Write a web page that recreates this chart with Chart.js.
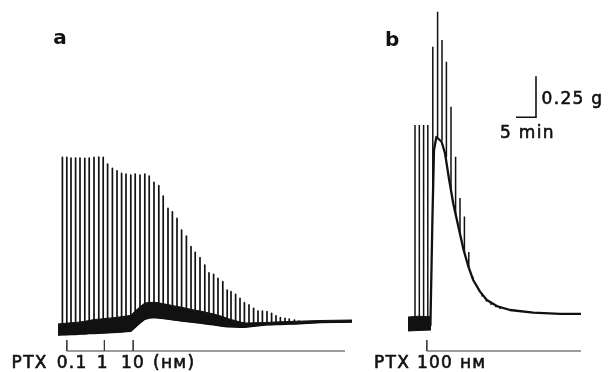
<!DOCTYPE html>
<html><head><meta charset="utf-8">
<script src="https://cdn.jsdelivr.net/npm/chart.js@4/dist/chart.umd.min.js"></script>
<style>html,body{margin:0;padding:0;background:#fff;}canvas{display:block;}</style>
</head><body>
<canvas id="c" width="608" height="372"></canvas>
<script>
// ---------- Panel a (time in min, tension in g) ----------
const aSpikeTime = [1.1,2.2,3.25,4.4,5.5,6.7,7.8,9.0,10.2,11.3,12.4,13.6,14.75,15.9,17.0,18.2,19.3,20.5,21.7,22.8,24.0,25.2,26.3,27.5,28.6,29.75,30.9,32.1,33.25,34.3,35.5,36.7,37.75,38.9,40.0,41.2,42.3,43.25,44.4,45.5,46.6,47.75,48.9,50.0,51.1,52.25,53.4,54.5,55.6,56.75,57.8,59.1,60.25];
const aSpikeTop = [1.059,1.059,1.055,1.055,1.055,1.053,1.055,1.059,1.061,1.059,1.018,0.992,0.977,0.962,0.957,0.951,0.957,0.951,0.957,0.945,0.907,0.886,0.823,0.748,0.727,0.687,0.616,0.579,0.514,0.480,0.447,0.402,0.355,0.346,0.321,0.301,0.250,0.240,0.224,0.199,0.173,0.159,0.138,0.122,0.122,0.118,0.108,0.093,0.081,0.077,0.073,0.067,0.061];
// lower / upper edge of the noisy baseline at each spike
const aBaseLow = [-0.023,-0.022,-0.021,-0.020,-0.018,-0.017,-0.015,-0.014,-0.013,-0.011,-0.010,-0.009,-0.007,-0.005,-0.003,-0.001,0.024,0.050,0.072,0.080,0.083,0.080,0.077,0.073,0.069,0.066,0.062,0.059,0.055,0.052,0.049,0.045,0.041,0.038,0.034,0.030,0.027,0.026,0.025,0.024,0.024,0.027,0.030,0.033,0.035,0.038,0.039,0.040,0.041,0.042,0.043,0.044,0.045];
const aBaseHigh = [0.045,0.048,0.050,0.052,0.055,0.059,0.064,0.070,0.072,0.075,0.078,0.080,0.084,0.087,0.091,0.095,0.122,0.148,0.170,0.174,0.175,0.172,0.166,0.161,0.155,0.150,0.145,0.138,0.132,0.127,0.122,0.116,0.110,0.104,0.096,0.088,0.077,0.070,0.063,0.055,0.049,0.049,0.050,0.051,0.051,0.052,0.054,0.055,0.056,0.057,0.058,0.059,0.060];
const aStartTime = [0];
const aStartLow = [-0.024];
const aStartHigh = [0.043];
const aTailTime = [65.5, 73.5];
const aTailLow = [0.052, 0.055];
const aTailHigh = [0.064, 0.067];
const ptxTimesA = [2.2, 11.6, 18.8];
const ptxLabelsA = ['0.1', '1', '10'];
const ptxLineEndA = 71.75;

// ---------- Panel b ----------
const bPreTime = [0, 2.5, 5.75];
const bPreLow = [0.0, 0.003, 0.006];
const bPreHigh = [0.085, 0.090, 0.087];
const bSpikeTime = [1.75,2.83,3.9,4.95,6.2,7.4,8.5,9.6,10.75,11.9,13.0,14.1,15.2,16.25,17.4,18.5,19.6,20.75,21.9,23.0];
const bSpikeTop = [1.256,1.256,1.256,1.256,1.734,1.947,1.774,1.642,1.368,1.063,0.811,0.698,0.482,0.329,0.262,0.213,0.183,0.162,0.149,0.137];
const bSpikeBase = [0.006,0.006,0.006,0.006,0.80,1.18,1.16,1.06,0.86,0.71,0.59,0.48,0.385,0.315,0.265,0.225,0.192,0.174,0.156,0.146];
const bEnvTime = [5.6,6.1,6.5,7.1,8.4,9.25,10.3,11.3,12.6,13.8,15.1,16.3,18.0,19.7,22.2,25.5,31.3,38.0,43.25];
const bEnvVal = [0.03,0.677,1.104,1.183,1.154,1.084,0.921,0.779,0.636,0.504,0.392,0.311,0.240,0.189,0.152,0.128,0.112,0.104,0.104];
const ptxTimesB = [4.7];
const ptxLineEndB = 43.25;

// scale bar (panel b time)
const scaleBarTime = 32, scaleBarMin = 5, scaleBarBase = 1.303, scaleBarG = 0.25;

// ---------- layout config ----------
const B_OFFSET = 87.5;
const MARK_Y = -0.122, MARK_TOP = -0.055;
const INK = '#111111';

const aBandT = aStartTime.concat(aSpikeTime, aTailTime);
const aBandL = aStartLow.concat(aBaseLow, aTailLow);
const aBandH = aStartHigh.concat(aBaseHigh, aTailHigh);

const aTrace = [{x:aStartTime[0], y:aStartLow[0]}];
aSpikeTime.forEach((t,i)=>{
  aTrace.push({x:t,y:aBaseLow[i]},{x:t,y:aSpikeTop[i]},{x:t,y:aBaseLow[i]});
});
aTailTime.forEach((t,i)=>aTrace.push({x:t,y:aTailLow[i]}));

const bSpikes = [];
bSpikeTime.forEach((t,i)=>{
  bSpikes.push({x:t+B_OFFSET,y:bSpikeBase[i]},{x:t+B_OFFSET,y:bSpikeTop[i]},{x:t+B_OFFSET,y:null});
});

const marks = [];
ptxTimesA.forEach((t,i)=>{
  marks.push({x:t,y:MARK_TOP},{x:t,y:MARK_Y});
  if(i===0) marks.push({x:ptxLineEndA,y:MARK_Y});
  marks.push({x:t,y:null});
});
ptxTimesB.forEach((t,i)=>{
  marks.push({x:t+B_OFFSET,y:MARK_TOP},{x:t+B_OFFSET,y:MARK_Y});
  if(i===0) marks.push({x:ptxLineEndB+B_OFFSET,y:MARK_Y});
  marks.push({x:t+B_OFFSET,y:null});
});

const bar = [
  {x:scaleBarTime-scaleBarMin+B_OFFSET, y:scaleBarBase},
  {x:scaleBarTime+B_OFFSET, y:scaleBarBase},
  {x:scaleBarTime+B_OFFSET, y:scaleBarBase+scaleBarG}
];

const labels = [
  {text:'a', x:-1.2, y:1.75, bold:true, size:20},
  {text:'b', x:81.75, y:1.738, bold:true, size:20},
  {text:'PTX', x:-11.6, y:-0.2256},
  {text:ptxLabelsA[0], x:-0.33, y:-0.2256},
  {text:ptxLabelsA[1], x:9.7, y:-0.2256},
  {text:ptxLabelsA[2], x:15.75, y:-0.2256},
  {text:'(нм)', x:23.75, y:-0.2256},
  {text:'PTX 100 нм', x:79.0, y:-0.2256},
  {text:'0.25 g', x:120.9, y:1.382},
  {text:'5 min', x:110.5, y:1.175}
];

const textPlugin = {
  id:'texts',
  afterDatasetsDraw(chart){
    const ctx = chart.ctx, xs = chart.scales.x, ys = chart.scales.y;
    ctx.save();
    ctx.fillStyle = INK;
    ctx.strokeStyle = INK;
    ctx.lineWidth = 0.6;
    ctx.lineJoin = 'round';
    ctx.textBaseline = 'alphabetic';
    ctx.textAlign = 'left';
    labels.forEach(l=>{
      ctx.font = (l.bold?'bold ':'') + (l.size||17) + 'px "DejaVu Sans", sans-serif';
      ctx.letterSpacing = l.bold ? '0px' : '1.3px';
      const px = xs.getPixelForValue(l.x), py = ys.getPixelForValue(l.y);
      ctx.fillText(l.text, px, py);
      if(!l.bold) ctx.strokeText(l.text, px, py);
    });
    ctx.restore();
  }
};

const line = (data, extra) => Object.assign({data, borderColor:INK, backgroundColor:INK, borderWidth:1.3, pointRadius:0, tension:0, fill:false, spanGaps:false, borderJoinStyle:'round'}, extra||{});

new Chart(document.getElementById('c'), {
  type:'line',
  data:{datasets:[
    line(aBandT.map((t,i)=>({x:t,y:aBandH[i]})), {fill:'+1', borderWidth:1}),
    line(aBandT.map((t,i)=>({x:t,y:aBandL[i]})), {borderWidth:1}),
    line(aTrace, {borderWidth:1.7}),
    line(bPreTime.map((t,i)=>({x:t+B_OFFSET,y:bPreHigh[i]})), {fill:'+1', borderWidth:1}),
    line(bPreTime.map((t,i)=>({x:t+B_OFFSET,y:bPreLow[i]})), {borderWidth:1}),
    line(bEnvTime.map((t,i)=>({x:t+B_OFFSET,y:bEnvVal[i]})), {borderWidth:2.3}),
    line(bSpikes, {borderWidth:1.5}),
    line(marks, {borderWidth:1, borderColor:'#3a3a3a'}),
    line(bar, {borderWidth:1.6, borderJoinStyle:'miter'})
  ]},
  options:{
    responsive:false, animation:false, devicePixelRatio:1, events:[],
    layout:{padding:0},
    plugins:{legend:{display:false}, tooltip:{enabled:false}, title:{display:false}},
    scales:{
      x:{type:'linear', min:-14.5, max:137.5, display:false},
      y:{type:'linear', min:-0.25, max:2.0183, display:false}
    }
  },
  plugins:[textPlugin]
});
</script>
</body></html>
